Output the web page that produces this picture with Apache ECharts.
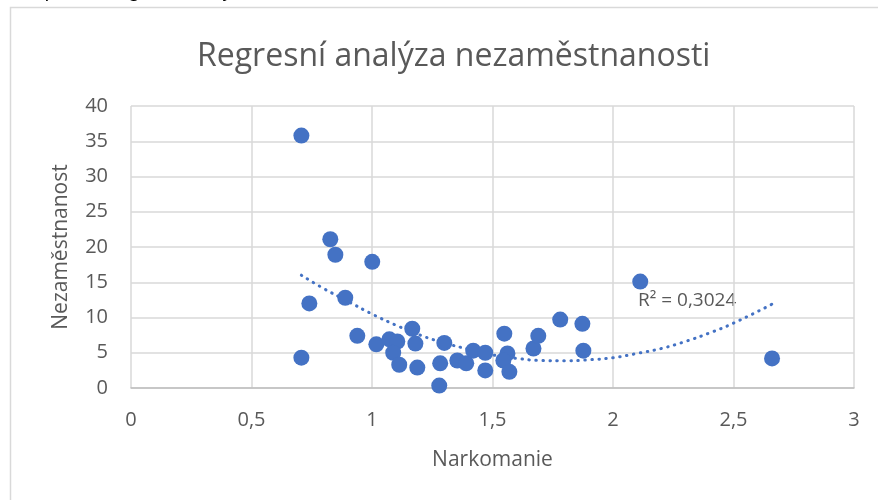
<!DOCTYPE html>
<html>
<head>
<meta charset="utf-8">
<title>Regresní analýza nezaměstnanosti</title>
<script src="https://cdn.jsdelivr.net/npm/echarts@6/dist/echarts.min.js"></script>
<style>
  html, body { margin: 0; padding: 0; background: #fff; }
  #chart { width: 878px; height: 500px; }
</style>
</head>
<body>
<div id="chart"></div>
<script>
'use strict';

// Narkomanie (x) a Nezaměstnanost (y)
const narkomanie = [
  0.707, 0.707, 0.740, 0.827, 0.848, 0.889, 1.001, 0.939, 1.018, 1.072,
  1.105, 1.088, 1.113, 1.167, 1.180, 1.188, 1.283, 1.300, 1.279, 1.354,
  1.391, 1.420, 1.470, 1.470, 1.549, 1.562, 1.545, 1.570, 1.670, 1.690,
  1.781, 1.873, 1.877, 2.113, 2.660
];
const nezamestnanost = [
  35.8, 4.3, 12.0, 21.1, 18.9, 12.8, 17.9, 7.4, 6.2, 6.9,
  6.6, 5.0, 3.3, 8.4, 6.3, 2.9, 3.5, 6.4, 0.35, 3.9,
  3.5, 5.3, 5.0, 2.5, 7.7, 4.9, 3.9, 2.3, 5.6, 7.4,
  9.7, 9.1, 5.3, 15.1, 4.2
];

// polynomický trend (2. řád), body odečtené z tečkované čáry
const trendX = [0.707, 0.8, 0.9, 1.0, 1.1, 1.2, 1.3, 1.4, 1.5, 1.6, 1.7, 1.8, 1.9, 2.0, 2.1, 2.2, 2.3, 2.4, 2.5, 2.66];
const trendY = [16.0, 14.1, 12.3, 10.5, 8.9, 7.5, 6.4, 5.5, 4.7, 4.2, 3.9, 3.85, 4.0, 4.3, 4.9, 5.6, 6.6, 7.8, 9.2, 11.9];

const rSquared = 'R² = 0,3024';

const blue = '#4472C4';
const textGray = '#595959';
const gridGray = '#d9d9d9';

function makeChart() {
  const points = narkomanie.map((x, i) => [x, nezamestnanost[i]]);
  const trend = trendX.map((x, i) => [x, trendY[i]]);
  const option = {
    animation: false,
    textStyle: {
      fontFamily: 'Open Sans, sans-serif',
    },
    title: {
      text: 'Regresní analýza nezaměstnanosti',
      left: 192,
      top: 36,
      textStyle: {
        fontSize: 32,
        fontWeight: 'normal',
        color: textGray,
        fontFamily: 'Open Sans, sans-serif',
      },
    },
    graphic: [
      {
        type: 'rect',
        shape: { x: 10.5, y: 7.5, width: 1000, height: 600 },
        style: { fill: 'none', stroke: gridGray, lineWidth: 1.5 },
        silent: true,
      },
      {
        type: 'text',
        left: 12,
        top: -20,
        style: {
          text: 'Graf č. 2 – Regresní analýza nezaměstnanosti',
          font: 'italic 21px "Liberation Serif", serif',
          fill: '#000',
        },
      },
      {
        type: 'text',
        left: 638,
        top: 291,
        style: {
          text: rSquared,
          fontSize: 19,
          fontFamily: 'Open Sans, sans-serif',
          fill: textGray,
        },
      },
    ],
    grid: {
      left: 131,
      right: 24,
      top: 106,
      bottom: 112,
    },
    xAxis: {
      type: 'value',
      min: 0,
      max: 3,
      interval: 0.5,
      name: 'Narkomanie',
      nameLocation: 'middle',
      nameGap: 62,
      nameTextStyle: { fontSize: 21, color: textGray },
      axisLine: { show: true, lineStyle: { color: '#bfbfbf', width: 1.5 } },
      axisTick: { show: false },
      axisLabel: {
        fontSize: 20,
        color: textGray,
        margin: 22,
        formatter: v => String(v).replace('.', ','),
      },
      splitLine: { show: true, lineStyle: { color: gridGray, width: 1.5 } },
    },
    yAxis: {
      type: 'value',
      min: 0,
      max: 40,
      interval: 5,
      name: 'Nezaměstnanost',
      nameLocation: 'middle',
      nameGap: 59,
      nameTextStyle: { fontSize: 21, color: textGray },
      axisLine: { show: false },
      axisTick: { show: false },
      axisLabel: { fontSize: 20, color: textGray, margin: 23 },
      splitLine: { show: true, lineStyle: { color: gridGray, width: 1.5 } },
    },
    series: [
      {
        type: 'line',
        data: trend,
        smooth: true,
        showSymbol: false,
        z: 1,
        lineStyle: {
          color: blue,
          width: 3,
          type: [0.5, 6.5],
          cap: 'round',
        },
      },
      {
        type: 'scatter',
        data: points,
        symbolSize: 16,
        z: 2,
        itemStyle: { color: blue, opacity: 1 },
      },
    ],
  };
  const chart = echarts.init(document.getElementById('chart'));
  chart.setOption(option);
  return chart;
}

makeChart();
</script>
</body>
</html>
